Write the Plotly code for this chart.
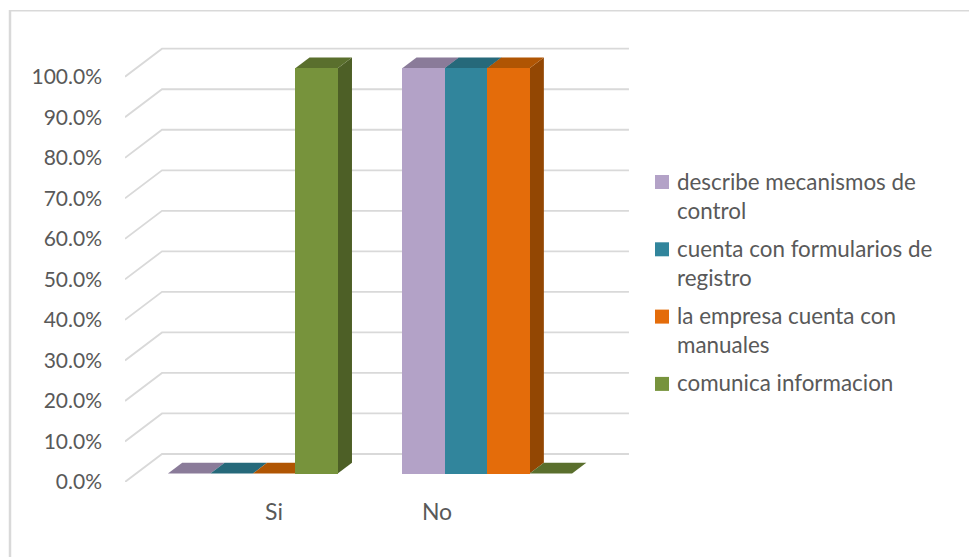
import plotly.graph_objects as go

# Chart data
categories = ["Si", "No"]
series_names = [
    "describe mecanismos de control",
    "cuenta con formularios de registro",
    "la empresa cuenta con manuales",
    "comunica informacion",
]
legend_lines = [
    ["describe mecanismos de", "control"],
    ["cuenta con formularios de", "registro"],
    ["la empresa cuenta con", "manuales"],
    ["comunica informacion"],
]
describe_values = [0.0, 100.0]
formularios_values = [0.0, 100.0]
manuales_values = [0.0, 100.0]
comunica_values = [100.0, 0.0]
series_values = [describe_values, formularios_values, manuales_values, comunica_values]
value_ticks = [0, 10, 20, 30, 40, 50, 60, 70, 80, 90, 100]

front_colors = ["#b3a2c7", "#31859c", "#e46c0a", "#77933c"]
top_colors = ["#8a7b99", "#26697a", "#b05503", "#5a6f2d"]
side_colors = ["#75688a", "#20596a", "#934703", "#4d5f26"]
grid_color = "#d9d9d9"
text_color = "#595959"

# Plot rectangle and the scale of the slanted chart box, in pixels
width, height = 969, 557
left, right, top, bottom = 125, 640, 40, 482
slot_px = 42.45                 # one bar width
unit_px = 4.053                 # one percentage point
box_dx, box_dy = 37.0, 28.0     # depth of the whole box
bar_near, bar_far = 0.30, 0.685 # depth of the front and back bar faces
gap = 0.75                      # space before the first bar, in bar widths
group_step = 5.52               # distance between the two groups, in bar widths
floor_slots = 11

plot_w = right - left
plot_h = bottom - top


def paper_x(px):
    return (px - left) / plot_w


def paper_y(py):
    return (bottom - py) / plot_h


def project(slot, value, depth):
    """Map a point in the box to the flat axes, with depth moving it up and right."""
    return (slot + depth * box_dx / slot_px, value + depth * box_dy / unit_px)


def polygon(points):
    return "M" + "L".join(f"{x:.4f},{y:.4f}" for x, y in points) + "Z"


shapes = []

# Gridlines: one slanted segment on the side wall and one along the back wall
for v in value_ticks:
    a = project(-gap, v, 0)
    b = project(-gap, v, 1)
    c = project(floor_slots - gap, v, 1)
    shapes.append(dict(type="path", path=f"M{a[0]},{a[1]}L{b[0]},{b[1]}L{c[0]},{c[1]}",
                       xref="x", yref="y", layer="below",
                       line=dict(color=grid_color, width=1.8)))

# Top and side faces of each bar, left to right; the front faces are the bar traces
for g in range(len(categories)):
    for s, values in enumerate(series_values):
        v = values[g]
        x0 = g * group_step + s
        x1 = x0 + 1
        top_face = [project(x0, v, bar_near), project(x1, v, bar_near),
                    project(x1, v, bar_far), project(x0, v, bar_far)]
        side_face = [project(x1, 0, bar_near), project(x1, v, bar_near),
                     project(x1, v, bar_far), project(x1, 0, bar_far)]
        shapes.append(dict(type="path", path=polygon(side_face), xref="x", yref="y",
                           layer="below", fillcolor=side_colors[s], line=dict(width=0)))
        shapes.append(dict(type="path", path=polygon(top_face), xref="x", yref="y",
                           layer="below", fillcolor=top_colors[s], line=dict(width=0)))

# Outer chart frame: left and top edges, running off the page at the right and bottom
shapes.append(dict(type="line", xref="paper", yref="paper", layer="below",
                   x0=paper_x(10), x1=paper_x(10), y0=paper_y(10), y1=paper_y(height),
                   line=dict(color=grid_color, width=2.5)))
shapes.append(dict(type="line", xref="paper", yref="paper", layer="below",
                   x0=paper_x(9), x1=paper_x(width), y0=paper_y(10.7), y1=paper_y(10.7),
                   line=dict(color=grid_color, width=1.6)))

# Legend: colour keys and wrapped labels
annotations = []
key_x0, key_size, label_x = 655, 14, 675.5
line_step, item_gap = 29.3, 38.0
py = 182.0
for s, lines in enumerate(legend_lines):
    shapes.append(dict(type="rect", xref="paper", yref="paper",
                       x0=paper_x(key_x0), x1=paper_x(key_x0 + key_size),
                       y0=paper_y(py + key_size / 2), y1=paper_y(py - key_size / 2),
                       fillcolor=front_colors[s], line=dict(width=0)))
    for i, line in enumerate(lines):
        annotations.append(dict(text=line, xref="paper", yref="paper", showarrow=False,
                                x=paper_x(label_x), y=paper_y(py - 1 + i * line_step),
                                xanchor="left", yanchor="middle", borderpad=0,
                                font=dict(size=22.4, color=text_color)))
    py += (len(lines) - 1) * line_step + item_gap

fig = go.Figure()
near_x = bar_near * box_dx / slot_px
near_y = bar_near * box_dy / unit_px
for s, values in enumerate(series_values):
    fig.add_trace(go.Bar(
        name=series_names[s],
        x=[g * group_step + s + 0.5 + near_x for g in range(len(categories))],
        y=values,
        base=near_y,
        width=1,
        marker=dict(color=front_colors[s], line=dict(width=0)),
    ))

font = "Lato, 'Open Sans', sans-serif"
fig.update_layout(
    width=width, height=height,
    margin=dict(l=left, r=width - right, t=top, b=height - bottom),
    paper_bgcolor="white", plot_bgcolor="rgba(0,0,0,0)",
    barmode="overlay", bargap=0,
    font=dict(family=font, color=text_color, size=21),
    shapes=shapes,
    annotations=annotations,
    showlegend=False,
    xaxis=dict(range=[-gap, (right - left) / slot_px - gap],
               tickmode="array", tickvals=[2.76, 6.6], ticktext=categories,
               showgrid=False, zeroline=False, showline=False, ticks="",
               ticklabelstandoff=14, tickfont=dict(size=23, color=text_color)),
    yaxis=dict(range=[0, (bottom - top) / unit_px],
               tickmode="array", tickvals=value_ticks,
               ticktext=[f"{v:.1f}%" for v in value_ticks],
               showgrid=False, zeroline=False, showline=False, ticks="",
               ticklabelstandoff=22, tickfont=dict(size=21, color=text_color)),
)

fig.write_html("out.html")
